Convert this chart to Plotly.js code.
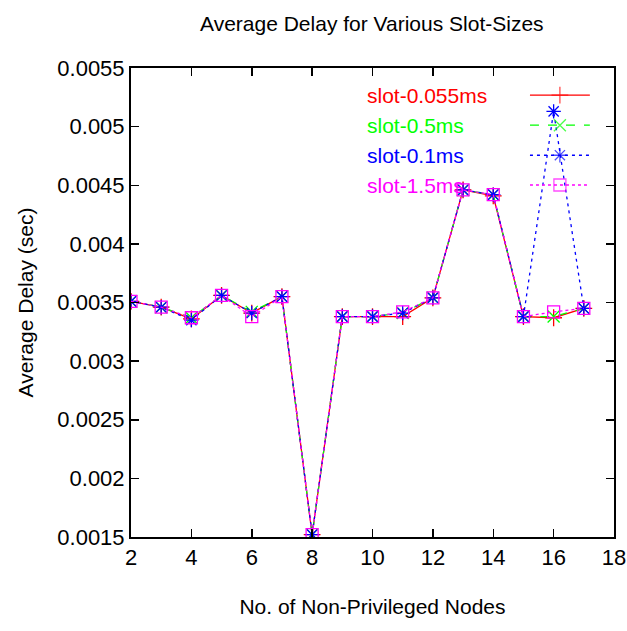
<!DOCTYPE html>
<html><head><meta charset="utf-8">
<script src="https://cdn.plot.ly/plotly-3.0.1.min.js"></script>
<style>body{margin:0;padding:0;background:#fff}#chart{width:627px;height:631px}</style>
</head><body><div id="chart"></div>
<script>
const nodes = [2,3,4,5,6,7,8,9,10,11,12,13,14,15,16,17];
const slot0055 = [0.00351,0.00346,0.00336,0.00356,0.00341,0.00355,0.00152,0.00338,0.00338,0.00338,0.00354,0.00446,0.00441,0.00338,0.00337,0.00345];
const slot05   = [0.00351,0.00346,0.00337,0.00356,0.00342,0.00355,0.00152,0.00338,0.00338,0.00341,0.00354,0.00446,0.00442,0.00338,0.00338,0.00345];
const slot01   = [0.00351,0.00346,0.00335,0.00356,0.00341,0.00355,0.00152,0.00338,0.00338,0.00341,0.00354,0.00446,0.00442,0.00338,0.00513,0.00345];
const slot15   = [0.00351,0.00346,0.00337,0.00356,0.00338,0.00355,0.00152,0.00338,0.00338,0.00342,0.00354,0.00446,0.00442,0.00338,0.00342,0.00345];
const seriesNames = ['slot-0.055ms','slot-0.5ms','slot-0.1ms','slot-1.5ms'];
const yTickVals = [0.0015,0.002,0.0025,0.003,0.0035,0.004,0.0045,0.005,0.0055];
const yTickText = ['0.0015','0.002','0.0025','0.003','0.0035','0.004','0.0045','0.005','0.0055'];
const xTickVals = [2,4,6,8,10,12,14,16,18];

const styles = [
  {color:'#ff0000', dash:'solid', symbol:'cross-thin-open'},
  {color:'#00ff00', dash:'dash', symbol:'x-thin-open'},
  {color:'#0000ff', dash:'3px,4px', symbol:'asterisk-open'},
  {color:'#ff00ff', dash:'dot', symbol:'square-open'}
];
const allY = [slot0055, slot05, slot01, slot15];
const font = 'Liberation Sans, Arial, sans-serif';

const traces = [];
allY.forEach((ys,i)=>{
  const s = styles[i];
  traces.push({x:nodes, y:ys, type:'scatter', mode:'lines+markers', name:seriesNames[i], showlegend:false,
    line:{color:s.color, width:1.3, dash:s.dash},
    marker:{symbol:s.symbol, size:12, color:s.color, line:{color:s.color, width:1.3}}});
});
// legend samples on overlay axes
const rowY = [0.942,0.878,0.814,0.7505];
const annotations = [];
allY.forEach((ys,i)=>{
  const s = styles[i];
  traces.push({x:[0.826,0.888,0.950], y:[rowY[i],rowY[i],rowY[i]], xaxis:'x2', yaxis:'y2', type:'scatter', mode:'lines+markers', showlegend:false, hoverinfo:'skip',
    line:{color:s.color, width:1.3, dash:s.dash},
    marker:{symbol:s.symbol, size:[0,12,0], color:s.color, line:{color:s.color, width:1.3}}});
  annotations.push({xref:'paper', yref:'paper', x:0.4845, y:rowY[i], xanchor:'left', yanchor:'middle', text:seriesNames[i], showarrow:false, font:{family:font, size:21, color:s.color}});
});

const layout = {
  width:627, height:631,
  margin:{l:131, r:13, t:68, b:94},
  paper_bgcolor:'#fff', plot_bgcolor:'#fff',
  title:{text:'Average Delay for Various Slot-Sizes', font:{family:font, size:21, color:'#000'}, x:0.593, xanchor:'center', y:0.962, yanchor:'middle'},
  xaxis:{range:[2,18], tickvals:xTickVals, ticks:'inside', ticklen:8, tickwidth:1.5, tickcolor:'#000', showline:true, linecolor:'#000', linewidth:2, mirror:'ticks', showgrid:false, zeroline:false,
    tickfont:{family:font, size:22, color:'#000'},
    title:{text:'No. of Non-Privileged Nodes', font:{family:font, size:21, color:'#000'}, standoff:30}},
  yaxis:{range:[0.0015,0.0055], tickvals:yTickVals, ticktext:yTickText, ticks:'inside', ticklen:8, tickwidth:1.5, tickcolor:'#000', showline:true, linecolor:'#000', linewidth:2, mirror:'ticks', showgrid:false, zeroline:false,
    tickfont:{family:font, size:22, color:'#000'},
    title:{text:'Average Delay (sec)', font:{family:font, size:21, color:'#000'}, standoff:18}},
  xaxis2:{overlaying:'x', range:[0,1], visible:false, fixedrange:true},
  yaxis2:{overlaying:'y', range:[0,1], visible:false, fixedrange:true},
  annotations:annotations,
  showlegend:false
};
Plotly.newPlot('chart', traces, layout, {displayModeBar:false, staticPlot:true});
</script></body></html>
